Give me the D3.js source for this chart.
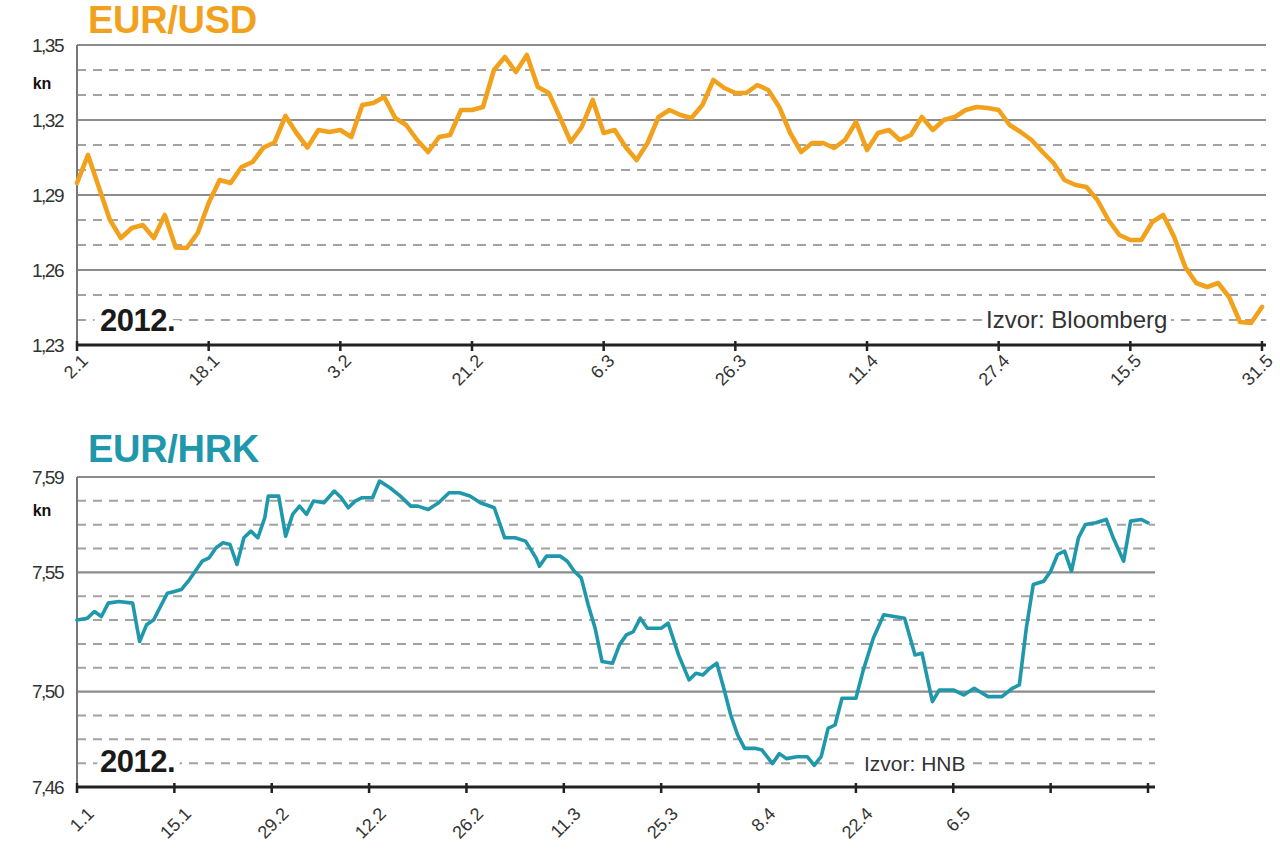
<!DOCTYPE html>
<html><head><meta charset="utf-8">
<script src="https://cdn.jsdelivr.net/npm/d3@7"></script>
<style>body{margin:0;background:#fff;}svg{display:block;}</style>
</head><body>
<svg id="chart" width="1280" height="849"></svg>
<script>
// ---------- DATA ----------
// EUR/USD daily (trading days), 2.1.2012 – 31.5.2012
const usdValues = [
 1.2948,1.306,1.293,1.280,1.2728,1.2768,1.278,1.2728,1.282,1.269,1.2688,1.2748,1.2868,1.296,1.2948,
 1.3012,1.3032,1.309,1.311,1.3216,1.3148,1.309,1.316,1.3152,1.316,1.3132,1.326,1.3268,1.3292,1.3208,
 1.318,1.312,1.3072,1.3132,1.314,1.324,1.324,1.3252,1.34,1.3452,1.3392,1.346,1.3332,1.3308,1.3212,
 1.3112,1.3172,1.328,1.3148,1.316,1.3092,1.304,1.3108,1.3212,1.324,
 1.322,1.3208,1.326,1.336,1.3328,1.3308,1.3308,1.334,1.332,1.3252,1.3148,1.3072,1.3108,1.3108,1.3088,
 1.312,1.3192,1.308,1.3148,1.316,1.312,1.314,1.3212,1.316,1.32,1.3212,1.324,1.3252,1.3248,1.324,
 1.318,1.3152,1.312,1.3072,1.3028,1.296,1.294,1.2932,1.288,1.28,1.274,1.272,1.272,1.2792,1.282,
 1.2732,1.2612,1.2548,1.2532,1.2548,1.2492,1.2392,1.2388,1.2452
];
const usdTickLabels = ["2.1","18.1","3.2","21.2","6.3","26.3","11.4","27.4","15.5","31.5"];
const usdTickStep = 12;
const usdYLabels = ["1,23","1,26","1,29","1,32","1,35"];
const usdYMajor = [1.23,1.26,1.29,1.32,1.35];

// EUR/HRK (days since 1.1.2012)
const hrkDays = [0,1.5,2.5,3.5,4.5,6,8,9,10,11,12,13,14,15,16,17,18,19,20,21,22,23,24,25,26,27,27.5,29,30,31,
 32,33,34,35.5,37,38,39,40,41,42.5,43.5,45,46.5,48,49,50.5,52,53.5,55,56.5,58,60,61.5,63,64.5,66,66.5,67.5,69.5,70.5,
 71.5,72.5,73.5,74.5,75.5,77,78,79,80,81,82,84,85,86.5,88,89,90,91,92,93,94,95,96,97.5,98.5,100,101,102,103.5,105,
 106,107,108,109,110,112,113,114.5,116,117.5,119,120.5,121.5,123,124,126,127.5,129,131,133,134.5,135.5,136.5,137.5,139,140,
 141,142,143,144,145,146.5,148,149,150.5,151.5,153,154];
const hrkValues = [7.530,7.5308,7.5336,7.5315,7.5371,7.5378,7.5371,7.521,7.528,7.530,
 7.5357,7.5413,7.542,7.5428,7.5463,7.5505,7.5547,7.5561,7.5603,7.5624,
 7.5617,7.5533,7.5645,7.5673,7.5645,7.5729,7.582,7.582,7.5652,7.5743,
 7.5778,7.5743,7.5799,7.5792,7.5841,7.5813,7.5771,7.5799,7.5813,7.5813,
 7.5883,7.5855,7.582,7.5778,7.5778,7.5764,7.5792,7.5834,7.5834,7.582,
 7.5792,7.5771,7.5645,7.5645,7.5631,7.5561,7.5526,7.5568,7.5568,7.5547,
 7.5505,7.5477,7.5364,7.5266,7.5126,7.5119,7.5196,7.5238,7.5252,7.5308,
 7.5266,7.5266,7.5287,7.5154,7.5049,7.5077,7.507,7.5098,7.5119,7.5014,
 7.4902,7.4818,7.4762,7.4762,7.4755,7.4698,7.474,7.4719,7.4727,7.4727,
 7.4691,7.4727,7.4846,7.486,7.4972,7.4972,7.5084,7.5224,7.5322,7.5315,
 7.5308,7.5154,7.5161,7.4958,7.5007,7.5007,7.4986,7.5014,7.4979,7.4979,
 7.5014,7.5028,7.5266,7.5449,7.5463,7.5505,7.5575,7.5589,7.5505,7.5645,
 7.5701,7.5708,7.5722,7.5645,7.5547,7.5715,7.5722,7.5708];
const hrkTickLabels = ["1.1","15.1","29.2","12.2","26.2","11.3","25.3","8.4","22.4","6.5","",""];
const hrkTickStep = 14;
const hrkYLabels = ["7,46","7,50","7,55","7,59"];
const hrkYMajor = [7.46,7.50,7.55,7.59];

// ---------- DRAW ----------
const svg = d3.select("#chart");
const FONT = "'Liberation Sans', Arial, sans-serif";

function panel(cfg){
  const g = svg.append("g");
  const x = d3.scaleLinear().domain(cfg.xDomain).range(cfg.xRange);
  const y = d3.scaleLinear().domain(cfg.yDomain).range(cfg.yRange);
  const gridRight = cfg.gridRight;
  const steps = Math.round((cfg.yDomain[1]-cfg.yDomain[0])/0.01);
  const levels = d3.range(0, steps+1).map(k => +(cfg.yDomain[0] + k*0.01).toFixed(2));
  const isMajor = v => cfg.yMajor.some(m => Math.abs(m - v) < 1e-6);

  // grid
  g.selectAll("line.grid").data(levels.filter(v => v !== cfg.yDomain[0])).join("line")
    .attr("x1", cfg.xRange[0]).attr("x2", gridRight)
    .attr("y1", d => y(d)).attr("y2", d => y(d))
    .attr("stroke", d => isMajor(d) ? "#8c8c8c" : "#a3a3a3")
    .attr("stroke-width", d => isMajor(d) ? 2.2 : 2)
    .attr("stroke-dasharray", d => isMajor(d) ? null : "9,7");

  // left axis line
  g.append("line").attr("x1", cfg.xRange[0]).attr("x2", cfg.xRange[0])
    .attr("y1", cfg.yRange[1]).attr("y2", cfg.yRange[0])
    .attr("stroke", "#777").attr("stroke-width", 2);

  // year label with white halo
  g.append("text").attr("x", 100).attr("y", cfg.yearY).text("2012.")
    .attr("font-family", FONT).attr("font-weight", "bold").attr("font-size", 31)
    .attr("fill", "#1a1a1a").attr("stroke", "#fff").attr("stroke-width", 12)
    .attr("paint-order", "stroke").attr("letter-spacing", -0.5);

  // source label
  g.append("text").attr("x", cfg.srcX).attr("y", cfg.srcY).text(cfg.source)
    .attr("font-family", FONT).attr("font-size", cfg.srcSize)
    .attr("fill", "#333").attr("stroke", "#fff").attr("stroke-width", 10)
    .attr("paint-order", "stroke");

  // line
  const line = d3.line().x(d => x(d[0])).y(d => y(d[1]));
  g.append("path").datum(cfg.points)
    .attr("fill", "none").attr("stroke", cfg.color).attr("stroke-width", cfg.lineWidth)
    .attr("stroke-linejoin", "round").attr("stroke-linecap", "round")
    .attr("d", line);

  // bottom axis
  const axisY = y(cfg.yDomain[0]);
  g.append("line").attr("x1", cfg.xRange[0]).attr("x2", gridRight)
    .attr("y1", axisY).attr("y2", axisY)
    .attr("stroke", "#222").attr("stroke-width", 3);
  const ticks = cfg.tickLabels.map((t, i) => ({t, v: i*cfg.tickStep}));
  g.selectAll("line.tick").data(ticks).join("line")
    .attr("x1", d => x(d.v)).attr("x2", d => x(d.v))
    .attr("y1", axisY - 4).attr("y2", axisY + 6)
    .attr("stroke", "#222").attr("stroke-width", 2.5);
  g.selectAll("text.xl").data(ticks).join("text")
    .attr("transform", d => `translate(${x(d.v)+cfg.lblDx},${axisY+cfg.lblDy}) rotate(-45)`)
    .attr("text-anchor", "end").attr("font-family", FONT).attr("font-size", 18)
    .attr("fill", "#333").text(d => d.t);

  // y labels
  g.selectAll("text.yl").data(cfg.yMajor).join("text")
    .attr("x", 63).attr("y", d => y(d)).attr("dy", "0.35em")
    .attr("text-anchor", "end").attr("font-family", FONT).attr("font-size", 19)
    .attr("letter-spacing", -1.5).attr("fill", "#333")
    .text((d, i) => cfg.yLabels[i]);
  g.append("text").attr("x", 42).attr("y", cfg.knY).attr("dy", "0.35em")
    .attr("text-anchor", "middle").attr("font-family", FONT).attr("font-weight", "bold")
    .attr("font-size", 16).attr("fill", "#111").text("kn");

  // title
  g.append("text").attr("x", 88).attr("y", cfg.titleY).text(cfg.title)
    .attr("font-family", FONT).attr("font-weight", "bold").attr("font-size", 38)
    .attr("fill", cfg.color).attr("letter-spacing", -0.3);
}

panel({
  title: "EUR/USD", titleY: 33, color: "#f2a11c", lineWidth: 4.6,
  xDomain: [0, usdValues.length - 1], xRange: [77, 1262], gridRight: 1266,
  yDomain: [1.23, 1.35], yRange: [345, 45],
  yMajor: usdYMajor, yLabels: usdYLabels, knY: 83,
  points: usdValues.map((v, i) => [i, v]),
  tickLabels: usdTickLabels, tickStep: usdTickStep, lblDx: 12, lblDy: 17,
  yearY: 331, source: "Izvor: Bloomberg", srcX: 986, srcY: 328, srcSize: 24
});

panel({
  title: "EUR/HRK", titleY: 462, color: "#1e98aa", lineWidth: 3.6,
  xDomain: [0, 154], xRange: [77, 1148], gridRight: 1155,
  yDomain: [7.46, 7.59], yRange: [787, 477],
  yMajor: hrkYMajor, yLabels: hrkYLabels, knY: 510,
  points: hrkDays.map((d, i) => [d, hrkValues[i]]),
  tickLabels: hrkTickLabels, tickStep: hrkTickStep, lblDx: 18, lblDy: 28,
  yearY: 772, source: "Izvor: HNB", srcX: 864, srcY: 771, srcSize: 21
});
</script>
</body></html>
